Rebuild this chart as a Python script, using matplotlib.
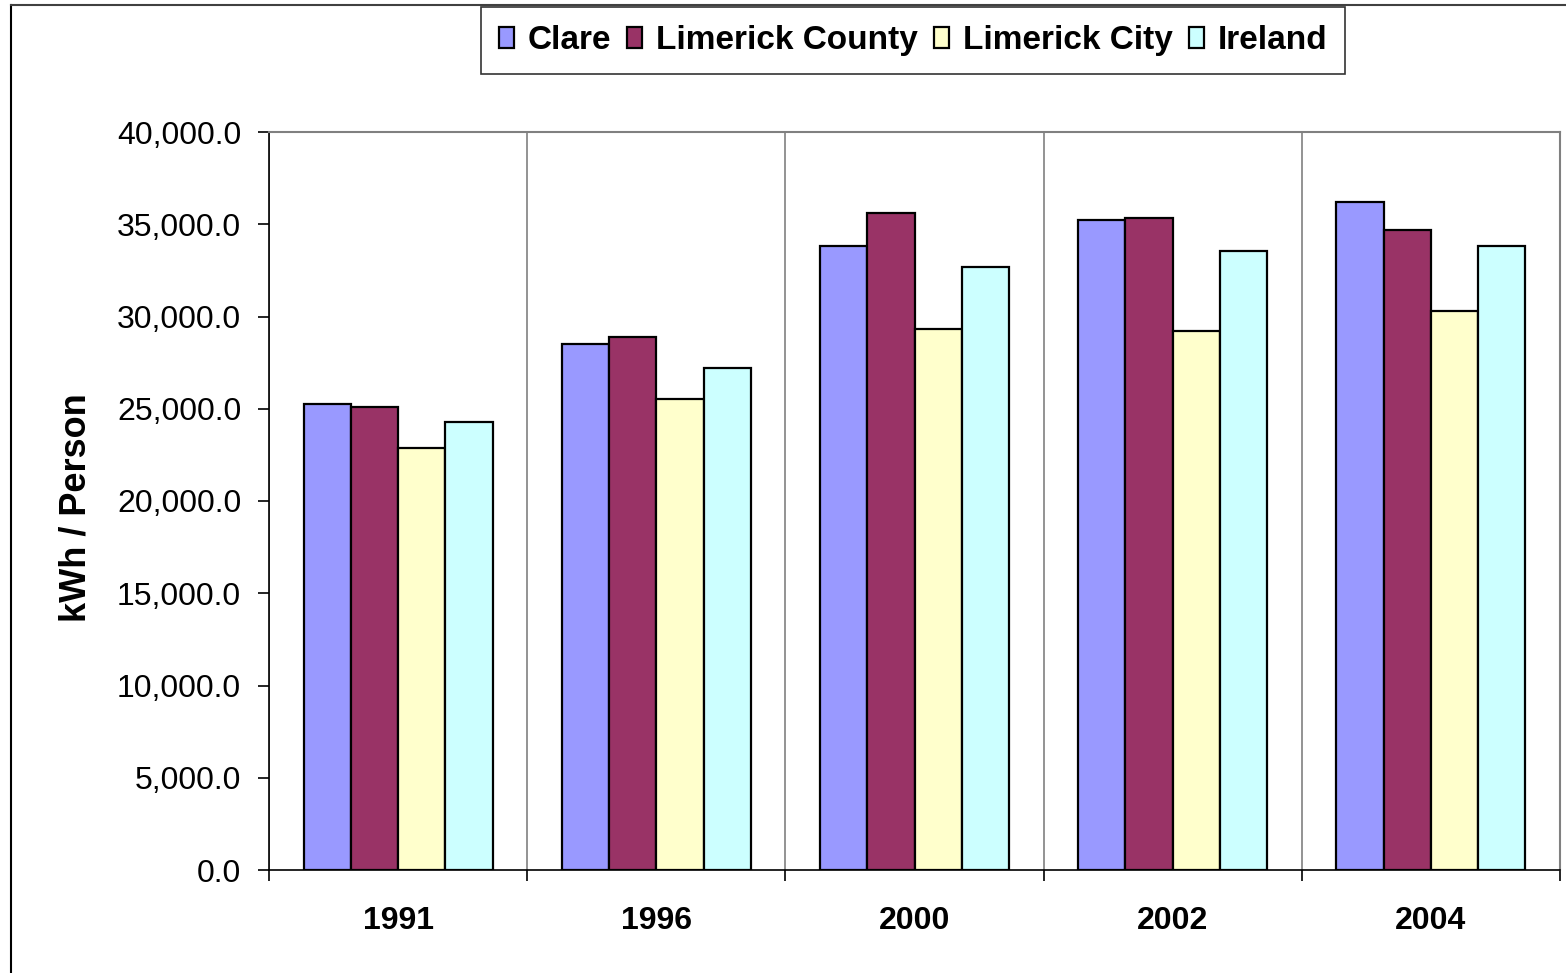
import matplotlib.pyplot as plt
import numpy as np
from matplotlib.lines import Line2D
from matplotlib.ticker import FuncFormatter
from matplotlib.transforms import blended_transform_factory

plt.rcParams["font.family"] = ["Liberation Sans", "DejaVu Sans"]

years = ["1991", "1996", "2000", "2002", "2004"]
series = ["Clare", "Limerick County", "Limerick City", "Ireland"]
clare = [25250, 28510, 33820, 35230, 36200]
limerick_county = [25100, 28890, 35610, 35340, 34690]
limerick_city = [22870, 25530, 29320, 29210, 30300]
ireland = [24280, 27210, 32680, 33550, 33820]
colors = ["#9999ff", "#993366", "#ffffcc", "#ccffff"]

W, H = 1566, 973
fig = plt.figure(figsize=(W / 100, H / 100), dpi=100)
ax = fig.add_axes([269 / W, 1 - 870 / H, (1560 - 269) / W, (870 - 132) / H])

x = np.arange(len(years))
bw = 0.183
for i, (vals, name) in enumerate(zip([clare, limerick_county, limerick_city, ireland], series)):
    ax.bar(x + (i - 1.5) * bw, vals, bw, color=colors[i], edgecolor="black",
           linewidth=1.6, label=name, zorder=3)

ax.set_xlim(-0.5, len(years) - 0.5)
ax.set_ylim(0, 40000)
ax.set_yticks(np.arange(0, 40001, 5000))
ax.yaxis.set_major_formatter(FuncFormatter(lambda v, p: f"{v:,.1f}"))
ax.tick_params(axis="y", labelsize=23, length=8, width=1.2, pad=12)

ax.set_xticks(x)
ax.set_xticklabels(years, fontsize=23, fontweight="bold")
ax.set_xticks(np.arange(-0.5, len(years), 1), minor=True)
ax.tick_params(axis="x", which="major", length=0, pad=26)
ax.tick_params(axis="x", which="minor", length=8, width=1.2)
ax.grid(axis="x", which="minor", color="#808080", linewidth=1.2, zorder=0)

for s in ["top", "right"]:
    ax.spines[s].set_color("#808080")
    ax.spines[s].set_linewidth(1.5)
for s in ["left", "bottom"]:
    ax.spines[s].set_color("black")
    ax.spines[s].set_linewidth(1.2)

ax.set_ylabel("kWh / Person", fontsize=26, fontweight="bold")
ax.yaxis.set_label_coords(93 / W, (870 - 508) / (870 - 132),
                          transform=blended_transform_factory(fig.transFigure, ax.transAxes))

leg = fig.legend(loc="center", bbox_to_anchor=(913 / W, 1 - 40.5 / H), ncol=4,
                 prop={"weight": "bold", "size": 24}, frameon=True,
                 fancybox=False, handlelength=0.45, handleheight=0.6,
                 handletextpad=0.4, columnspacing=0.5, borderpad=0.55,
                 borderaxespad=0)
leg.get_frame().set_edgecolor("black")
leg.get_frame().set_linewidth(1.2)

# outer chart border (cropped on right and bottom)
fig.add_artist(Line2D([10.5 / W, 10.5 / W], [0, 1 - 5 / H], color="black", linewidth=1.5,
                      transform=fig.transFigure))
fig.add_artist(Line2D([10.5 / W, 1], [1 - 5 / H, 1 - 5 / H], color="#404040", linewidth=1.5,
                      transform=fig.transFigure))

fig.savefig("out.png", dpi=100)
